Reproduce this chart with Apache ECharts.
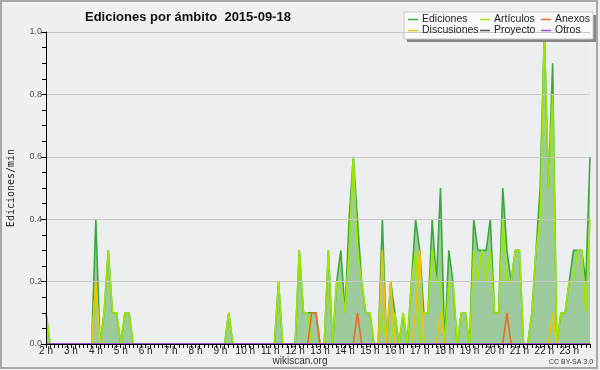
<!DOCTYPE html>
<html>
<head>
<meta charset="utf-8">
<script src="https://cdn.jsdelivr.net/npm/echarts@6/dist/echarts.min.js"></script>
<style>
html,body{margin:0;padding:0;background:#f0f0f0;}
#chart{width:600px;height:370px;}
</style>
</head>
<body>
<div id="chart"></div>
<script>
// 10-minute bins from 2:00 to 23:50 (132 points)
var startHour = 2;
var binMinutes = 10;
var hourLabels = ['2 h','3 h','4 h','5 h','6 h','7 h','8 h','9 h','10 h','11 h','12 h','13 h','14 h','15 h','16 h','17 h','18 h','19 h','20 h','21 h','22 h','23 h'];
var yTicks = [0, 0.2, 0.4, 0.6, 0.8, 1.0];

var ediciones = [
0.1,0,0,0,0,0,0,0,0,0,
0,0,0.4,0,0.1,0.3,0.1,0.1,0,0.1,
0.1,0,0,0,0,0,0,0,0,0,
0,0,0,0,0,0,0,0,0,0,
0,0,0,0,0.1,0,0,0,0,0,
0,0,0,0,0,0,0.2,0,0,0,
0,0.3,0.1,0.1,0.1,0.1,0,0,0.3,0,
0.2,0.3,0.1,0.4,0.6,0.4,0.2,0.1,0.1,0,
0,0.4,0,0.2,0.1,0,0.1,0,0.2,0.4,
0.3,0.1,0.1,0.4,0.2,0.5,0,0.3,0.2,0,
0.1,0.1,0,0.4,0.3,0.3,0.3,0.4,0.1,0.1,
0.5,0.3,0.2,0.3,0.3,0,0,0.1,0.3,0.5,
1.0,0.5,0.9,0,0.1,0.1,0.2,0.3,0.3,0.3,
0.2,0.6
];
var articulos = [
0.1,0,0,0,0,0,0,0,0,0,
0,0,0.2,0,0.1,0.3,0.1,0.1,0,0.1,
0.1,0,0,0,0,0,0,0,0,0,
0,0,0,0,0,0,0,0,0,0,
0,0,0,0,0.1,0,0,0,0,0,
0,0,0,0,0,0,0.2,0,0,0,
0,0.3,0.1,0.1,0,0,0,0,0.3,0,
0.2,0.2,0.1,0.3,0.6,0.3,0.2,0.1,0.1,0,
0,0.1,0,0,0.1,0,0.1,0,0.2,0.3,
0,0.1,0.1,0.3,0.2,0.2,0,0.2,0.2,0,
0.1,0.1,0,0.3,0.2,0.3,0.2,0.3,0.1,0.1,
0.4,0.2,0.2,0.3,0.3,0,0,0.1,0.3,0.4,
1.0,0.5,0.8,0,0.1,0.1,0.2,0.2,0.3,0.3,
0.1,0.4
];
var anexos = [
0,0,0,0,0,0,0,0,0,0,
0,0,0,0,0,0,0,0,0,0,
0,0,0,0,0,0,0,0,0,0,
0,0,0,0,0,0,0,0,0,0,
0,0,0,0,0,0,0,0,0,0,
0,0,0,0,0,0,0,0,0,0,
0,0,0,0,0.1,0.1,0,0,0,0,
0,0,0,0,0,0.1,0,0,0,0,
0,0,0,0,0,0,0,0,0,0,
0,0,0,0,0,0,0,0,0,0,
0,0,0,0,0,0,0,0,0,0,
0,0.1,0,0,0,0,0,0,0,0,
0,0,0,0,0,0,0,0,0,0,
0,0
];
var discusiones = [
0,0,0,0,0,0,0,0,0,0,
0,0,0.2,0,0,0,0,0,0,0,
0,0,0,0,0,0,0,0,0,0,
0,0,0,0,0,0,0,0,0,0,
0,0,0,0,0,0,0,0,0,0,
0,0,0,0,0,0,0,0,0,0,
0,0,0,0,0,0,0,0,0,0,
0,0,0,0,0,0,0,0,0,0,
0,0.3,0,0.2,0,0,0,0,0,0.1,
0.3,0,0,0,0,0.1,0,0,0,0,
0,0,0,0,0,0,0,0,0,0,
0,0,0,0,0,0,0,0,0,0,
0,0,0.1,0,0,0,0,0,0,0,
0,0
];
var proyecto = [
0,0,0,0,0,0,0,0,0,0,
0,0,0,0,0,0,0,0,0,0,
0,0,0,0,0,0,0,0,0,0,
0,0,0,0,0,0,0,0,0,0,
0,0,0,0,0,0,0,0,0,0,
0,0,0,0,0,0,0,0,0,0,
0,0,0,0,0,0,0,0,0,0,
0,0,0,0,0,0,0,0,0,0,
0,0,0,0,0,0,0,0,0,0,
0,0,0,0,0,0,0,0,0,0,
0,0,0,0,0,0,0,0,0,0,
0,0,0,0,0,0,0,0,0,0,
0,0,0,0,0,0,0,0,0,0,
0,0
];
var otros = [
0,0,0,0,0,0,0,0,0,0,
0,0,0,0,0,0,0,0,0,0,
0,0,0,0,0,0,0,0,0,0,
0,0,0,0,0,0,0,0,0,0,
0,0,0,0,0,0,0,0,0,0,
0,0,0,0,0,0,0,0,0,0,
0,0,0,0,0,0,0,0,0,0,
0,0,0,0,0,0,0,0,0,0,
0,0,0,0,0,0,0,0,0,0,
0,0,0,0,0,0,0,0,0,0,
0,0,0,0,0,0,0,0,0,0,
0,0,0,0,0,0,0,0,0,0,
0,0,0,0,0,0,0,0,0,0,
0,0
];

// time categories
var times = [];
for (var i = 0; i < ediciones.length; i++) {
  var m = startHour * 60 + i * binMinutes;
  var hh = Math.floor(m / 60), mm = m % 60;
  times.push(hh + ':' + (mm < 10 ? '0' : '') + mm);
}

var chart = echarts.init(document.getElementById('chart'), null, {renderer: 'canvas'});
var font = 'Liberation Sans';
function lineSeries(name, data, color, extra) {
  var s = {
    name: name, type: 'line', data: data, showSymbol: false, symbol: 'none',
    lineStyle: {color: color, width: 1.6}, itemStyle: {color: color},
    z: 2, animation: false, emphasis: {disabled: true}
  };
  if (extra) for (var k in extra) s[k] = extra[k];
  return s;
}
var legendCommon = {
  orient: 'vertical', top: 14, itemGap: 0, itemWidth: 10, itemHeight: 1.5, icon: 'rect',
  selectedMode: false, z: 6,
  textStyle: {fontFamily: font, fontSize: 10.5, color: '#222', lineHeight: 10, padding: [0,0,0,-1]},
  padding: 0
};
function legendAt(left, names) {
  var o = {}; for (var k in legendCommon) o[k] = legendCommon[k];
  o.left = left; o.data = names; return o;
}

chart.setOption({
  backgroundColor: '#f0f0f0',
  animation: false,
  title: {
    text: 'Ediciones por ámbito  2015-09-18',
    left: 80, top: 6,
    textStyle: {fontFamily: font, fontSize: 13, fontWeight: 'bold', color: '#111'}
  },
  legend: [
    legendAt(408, ['Ediciones', 'Discusiones']),
    legendAt(480, ['Artículos', 'Proyecto']),
    legendAt(541, ['Anexos', 'Otros'])
  ],
  grid: {left: 46, right: 10, top: 32, bottom: 26, show: true, backgroundColor: '#edeef0', borderWidth: 0,
         containLabel: false, outerBoundsMode: 'none'},
  xAxis: {
    type: 'category', data: times, boundaryGap: false, z: 4,
    axisLine: {lineStyle: {color: '#000', width: 1}},
    axisTick: {interval: 0, length: 4, lineStyle: {color: '#000'}},
    axisLabel: {
      interval: 5, margin: 2, fontFamily: font, fontSize: 10, color: '#222',
      formatter: function (v, idx) { return hourLabels[Math.floor(idx / 6)]; }
    },
    splitLine: {show: false}
  },
  yAxis: {
    type: 'value', min: yTicks[0], max: yTicks[yTicks.length - 1], interval: 0.2,
    name: 'Ediciones/min', nameLocation: 'middle', nameGap: 30, nameRotate: 90,
    nameTextStyle: {fontFamily: 'DejaVu Sans Mono', fontSize: 10, color: '#222'},
    axisLine: {show: true, lineStyle: {color: '#000', width: 1}},
    axisTick: {show: true, length: 5, lineStyle: {color: '#000'}},
    minorTick: {show: true, splitNumber: 4, length: 4, lineStyle: {color: '#000'}},
    axisLabel: {margin: 4, fontFamily: font, fontSize: 9, color: '#555',
      formatter: function (v) { return v.toFixed(1); }},
    splitLine: {show: true, lineStyle: {color: '#c8c8c8', width: 1}},
    z: 4
  },
  graphic: [
    {type: 'rect', z: 0, shape: {x: 1, y: 1, width: 596, height: 367}, style: {fill: null, stroke: '#a8a8a8', lineWidth: 2}},
    {type: 'rect', z: 3, shape: {x: 407, y: 15, width: 189, height: 27}, style: {fill: '#868686'}},
    {type: 'rect', z: 3, shape: {x: 404, y: 12, width: 189, height: 27}, style: {fill: '#fafafa', stroke: '#c8c8c8', lineWidth: 1}},
    {type: 'text', z: 3, left: 'center', top: 356, style: {text: 'wikiscan.org', font: '10px "Liberation Sans"', fill: '#333'}},
    {type: 'text', z: 3, left: 549, top: 359, style: {text: 'CC BY-SA 3.0', font: '7px "Liberation Sans"', fill: '#333'}}
  ],
  series: [
    lineSeries('Ediciones', ediciones, '#3aaa3a', {areaStyle: {color: '#9ecb9e', opacity: 1}}),
    lineSeries('Artículos', articulos, '#9ee800'),
    lineSeries('Anexos', anexos, '#ee6a22'),
    lineSeries('Discusiones', discusiones, '#f2c200'),
    lineSeries('Proyecto', proyecto, '#555555'),
    lineSeries('Otros', otros, '#9a48ee')
  ]
});
</script>
</body>
</html>
